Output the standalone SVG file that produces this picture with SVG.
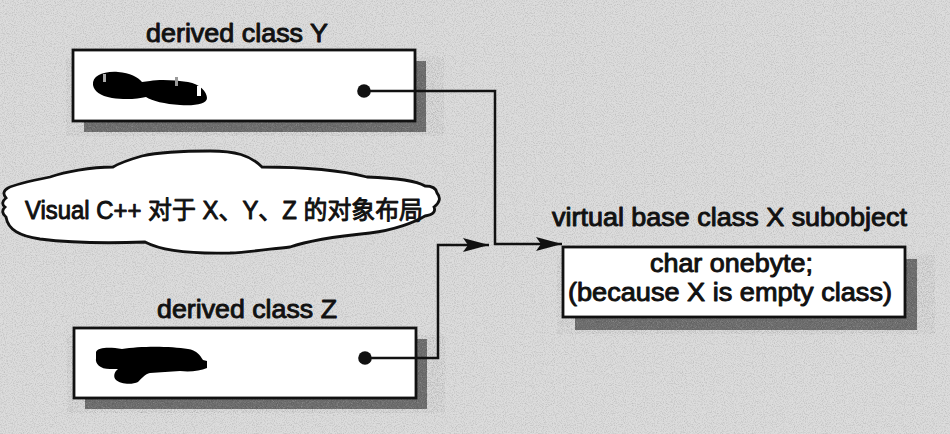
<svg xmlns="http://www.w3.org/2000/svg" width="950" height="434" viewBox="0 0 950 434">
<style>
  .lbl { font-family: "Liberation Sans", "Noto Sans CJK SC", Arial, sans-serif; fill: #111; stroke: #111; stroke-width: 0.95; stroke-linejoin: round; }
  .box { fill: #fff; stroke: #111; stroke-width: 2.8; }
  .shadow { fill: #808080; filter: url(#grain); }
  .wire { fill: none; stroke: #111; stroke-width: 2.5; }
  .blot { fill: #000; }
</style>
<defs>
  <filter id="noise" x="0" y="0" width="100%" height="100%">
    <feTurbulence type="fractalNoise" baseFrequency="0.9" numOctaves="2" seed="3" result="t"/>
    <feColorMatrix in="t" type="matrix" values="0 0 0 0 0  0 0 0 0 0  0 0 0 0 0  0 0 0 -2.2 1.25" result="a"/>
    <feFlood flood-color="#9a9a9a" result="c"/>
    <feComposite in="c" in2="a" operator="in"/>
  </filter>
  <filter id="grain" x="-5%" y="-5%" width="110%" height="110%">
    <feTurbulence type="fractalNoise" baseFrequency="1.2" numOctaves="1" seed="7" result="t"/>
    <feColorMatrix in="t" type="saturate" values="0" result="g"/>
    <feComposite in="SourceGraphic" in2="g" operator="arithmetic" k1="0" k2="1" k3="0.35" k4="-0.15"/>
  </filter>
  <marker id="arrow" markerUnits="userSpaceOnUse" markerWidth="28" markerHeight="16" refX="26" refY="7" orient="auto">
    <path d="M0,0 L26,7 L0,14 L5,7 Z" fill="#111"/>
  </marker>
</defs>

<rect x="0" y="0" width="950" height="434" fill="#dcdcdc"/>
<rect x="0" y="0" width="950" height="434" filter="url(#noise)" opacity="0.45"/>

<g id="cloud-note">
  <path class="box" stroke-width="2.6" d="M8,188 Q1,192 6,198 Q0,203 5,207 Q0,212 6,217 C8,230 20,236 40,239 C80,244 120,243 145,242 C160,250 190,254 230,253 C250,252 270,249 290,247 C310,240 340,236 370,233 C395,230 415,222 425,216 Q437,214 434,207 Q443,200 437,193 Q436,186 425,186 C415,180 395,178 367,177 C340,170 300,167 262,167 C250,155 235,151 210,151 C180,151 160,152 142,156 C128,160 118,164 113,167 C90,167 65,172 50,177 C30,181 15,184 8,188 Z"/>
  <text class="lbl" x="25" y="219" font-size="25" textLength="398" lengthAdjust="spacingAndGlyphs">Visual C++ 对于 X、Y、Z 的对象布局</text>
</g>

<g id="node-y">
  <text class="lbl" x="146" y="42" font-size="26" textLength="182" lengthAdjust="spacingAndGlyphs">derived class Y</text>
  <rect class="shadow" x="84" y="61" width="342" height="71"/>
  <rect class="box" x="73" y="50" width="342" height="71"/>
  <path class="blot" d="M93,85 C92,76 103,71 118,72 C130,73 138,77 142,82 L150,81 C160,79 175,80 188,82 C200,84 207,92 207,98 C207,104 195,106 180,105 C165,104 152,101 146,97 C138,99 125,100 112,98 C100,96 94,91 93,85 Z"/>
  <rect x="103" y="74" width="3" height="8" fill="#aaa"/>
  <rect x="175" y="77" width="3" height="9" fill="#999"/>
  <rect x="197" y="86" width="4" height="10" fill="#fff"/>
  <circle cx="364" cy="91" r="6.8" fill="#111"/>
</g>

<g id="node-z">
  <text class="lbl" x="157" y="318" font-size="26" textLength="180" lengthAdjust="spacingAndGlyphs">derived class Z</text>
  <rect class="shadow" x="85" y="339" width="342" height="70"/>
  <rect class="box" x="74" y="328" width="342" height="70"/>
  <path class="blot" d="M96,352 C98,347 110,347 122,349 C140,346 170,346 188,349 C196,350 200,355 203,360 L207,361 L207,368 C200,371 190,372 180,371 L150,373 C145,374 142,378 138,382 C132,385 120,384 116,380 C113,377 114,372 118,369 L110,369 C100,369 95,364 96,358 Z"/>
  <path d="M194,351 L198,347 L200,352 Z" fill="#fff"/>
  <circle cx="365" cy="358" r="6.8" fill="#111"/>
</g>

<g id="node-x">
  <text class="lbl" x="552" y="226" font-size="25" textLength="355" lengthAdjust="spacingAndGlyphs">virtual base class X subobject</text>
  <rect class="shadow" x="575" y="259" width="342" height="71"/>
  <rect class="box" x="563" y="247" width="342" height="70"/>
  <text class="lbl" x="650" y="272" font-size="25" textLength="163" lengthAdjust="spacingAndGlyphs">char onebyte;</text>
  <text class="lbl" x="568" y="301" font-size="25" textLength="324" lengthAdjust="spacingAndGlyphs">(because X is empty class)</text>
</g>

<g id="connectors">
  <path class="wire" d="M364,91 L495,91 L495,244 L562,244" marker-end="url(#arrow)"/>
  <path class="wire" d="M365,358 L438,358 L438,245 L489,245" marker-end="url(#arrow)"/>
</g>
</svg>
